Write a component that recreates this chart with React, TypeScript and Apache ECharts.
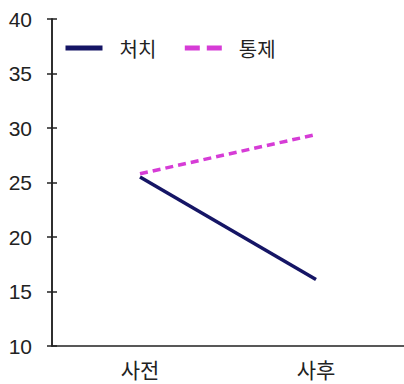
import React, { useEffect, useRef } from "react";
import * as echarts from "echarts";

const categories = ["사전", "사후"];
const treatment = [25.5, 16.1];
const control = [25.8, 29.4];
const seriesNames = ["처치", "통제"];

export default function App() {
  const ref = useRef<HTMLDivElement>(null);
  useEffect(() => {
    if (!ref.current) return;
    const chart = echarts.init(ref.current, undefined, { renderer: "svg" });
    const font = "'Liberation Sans', 'Noto Sans CJK KR', sans-serif";
    const kfont = "'Noto Sans CJK KR', sans-serif";
    chart.setOption({
      animation: false,
      backgroundColor: "#ffffff",
      grid: { left: 52, right: -2, top: 19, bottom: 38 },
      legend: {
        left: 58,
        top: 33,
        itemWidth: 37,
        itemHeight: 10,
        itemGap: 26,
        itemStyle: { opacity: 0 },
        lineStyle: { width: 5 },
        textStyle: {
          fontFamily: kfont,
          fontSize: 20,
          color: "#222",
          padding: [0, 0, 0, 12],
        },
        data: [
          { name: seriesNames[0] },
          { name: seriesNames[1], lineStyle: { width: 5, type: [15, 7] } },
        ],
      },
      xAxis: {
        type: "category",
        data: categories,
        axisLine: { show: true, lineStyle: { color: "#222", width: 1.5 } },
        axisTick: { show: false },
        axisLabel: {
          fontFamily: kfont,
          fontSize: 21,
          color: "#222",
          margin: 12,
        },
      },
      yAxis: [
        {
          type: "value",
          min: 10,
          max: 40,
          interval: 5,
          splitLine: { show: false },
          axisLine: { show: true, lineStyle: { color: "#222", width: 1.5 } },
          axisTick: { show: true, length: 5, lineStyle: { color: "#222", width: 1.5 } },
          axisLabel: { fontFamily: font, fontSize: 21, color: "#222", margin: 20 },
        },
        {
          type: "value",
          min: 10,
          max: 40,
          interval: 5,
          position: "left",
          splitLine: { show: false },
          axisLine: { show: true, lineStyle: { color: "#222", width: 1.5 } },
          axisTick: { show: true, inside: true, length: 5, lineStyle: { color: "#222", width: 1.5 } },
          axisLabel: { show: false },
        },
      ],
      series: [
        {
          name: seriesNames[0],
          type: "line",
          data: treatment,
          symbol: "none",
          lineStyle: { color: "#151565", width: 3.5 },
          itemStyle: { color: "#151565" },
        },
        {
          name: seriesNames[1],
          type: "line",
          data: control,
          symbol: "none",
          lineStyle: { color: "#d63cd6", width: 3.5, type: [8, 5] },
          itemStyle: { color: "#d63cd6" },
        },
      ],
    });
    return () => chart.dispose();
  }, []);
  return <div ref={ref} style={{ width: 404, height: 384, position: "fixed", left: 0, top: 0 }} />;
}
